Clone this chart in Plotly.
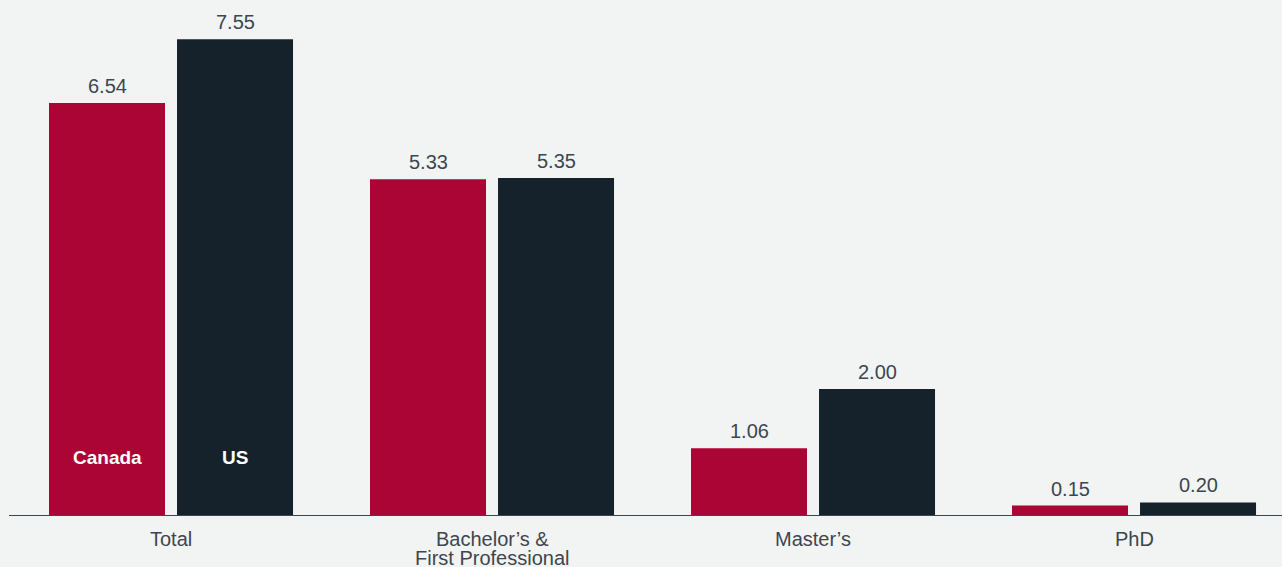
import plotly.graph_objects as go

# Degree categories and values per country
categories = ["Total", "Bachelor’s &<br>First Professional", "Master’s", "PhD"]
canada = [6.54, 5.33, 1.06, 0.15]
us = [7.55, 5.35, 2.00, 0.20]
series_names = ["Canada", "US"]

RED = "#ab0535"
DARK = "#16222b"
BG = "#f2f4f3"
TEXT = "#3d4650"
FONT = "Liberation Sans, Arial, sans-serif"

xs = list(range(len(categories)))
bar_w = 0.3614
offsets = [-0.3801, 0.0187]

fig = go.Figure()
for name, vals, color, off in zip(series_names, [canada, us], [RED, DARK], offsets):
    fig.add_trace(go.Bar(
        x=xs, y=vals, name=name, width=bar_w, offset=off,
        marker=dict(color=color, line=dict(width=0)),
        hoverinfo="skip",
    ))

annotations = []
# Value labels above each bar
for vals, off in zip([canada, us], offsets):
    for x, v in zip(xs, vals):
        annotations.append(dict(
            x=x + off + bar_w / 2, y=v, xref="x", yref="y",
            text=f"{v:.2f}", showarrow=False, yanchor="bottom", yshift=4,
            font=dict(family=FONT, size=20, color=TEXT),
        ))

# Series names written inside the first pair of bars
for name, off in zip(series_names, offsets):
    annotations.append(dict(
        x=xs[0] + off + bar_w / 2, y=0.905, xref="x", yref="y",
        text=f"<b>{name}</b>", showarrow=False, yanchor="middle",
        font=dict(family=FONT, size=19, color="#ffffff"),
    ))

# Category labels under the axis, one annotation per line for tight spacing
for x, cat in zip(xs, categories):
    for i, line in enumerate(cat.split("<br>")):
        annotations.append(dict(
            x=x, y=0, xref="x", yref="paper",
            text=line, showarrow=False, yanchor="middle",
            yshift=-24 - 19 * i,
            font=dict(family=FONT, size=20, color=TEXT),
        ))

fig.update_layout(
    width=1282, height=567,
    margin=dict(l=9, r=0, t=0, b=52),
    paper_bgcolor=BG, plot_bgcolor=BG,
    showlegend=False,
    annotations=annotations,
    xaxis=dict(
        range=[-0.5047, 3.461], tickvals=xs, showticklabels=False,
        showgrid=False, zeroline=False, showline=True,
        linecolor="#3b4550", linewidth=1, ticks="",
    ),
    yaxis=dict(
        range=[0, 8.175], visible=False, showgrid=False, zeroline=False,
    ),
)

fig.write_html("out.html")
